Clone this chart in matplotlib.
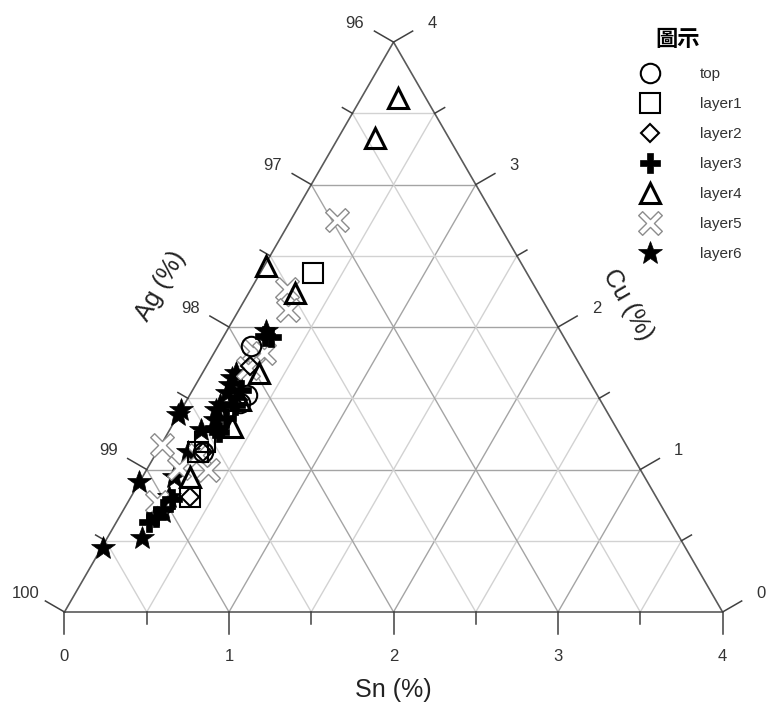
import numpy as np
import matplotlib
matplotlib.use("Agg")
import matplotlib.pyplot as plt
from matplotlib.lines import Line2D
from matplotlib.path import Path

plt.rcParams['font.family'] = ['Liberation Sans', 'DejaVu Sans']

# compositions (Sn %, Cu %), Ag is the rest
top_sn = [0.20, 0.35, 0.33, 0.28]
top_cu = [1.87, 1.52, 1.47, 1.12]
layer1_sn = [0.32, 0.26, 0.25, 0.36]
layer1_cu = [2.38, 1.19, 1.12, 0.81]
layer2_sn = [0.26, 0.36, 0.28, 0.31]
layer2_cu = [1.73, 0.81, 1.12, 1.49]
layer3_sn = [0.29, 0.25, 0.30, 0.27, 0.31, 0.24, 0.22, 0.20, 0.26, 0.29, 0.31]
layer3_cu = [1.93, 1.94, 1.36, 1.29, 1.45, 0.72, 0.67, 0.63, 0.79, 1.56, 1.26]
layer4_sn = [0.22, 0.22, 0.01, 0.28, 0.34, 0.37, 0.29, 0.32]
layer4_cu = [3.61, 3.33, 2.43, 2.24, 1.68, 1.30, 0.95, 1.49]
layer5_sn = [0.28, 0.22, 0.30, 0.23, 0.30, 0.26, 0.01, 0.19, 0.37, 0.18, 0.27]
layer5_cu = [2.75, 2.27, 2.12, 1.83, 1.82, 1.71, 1.17, 1.01, 1.00, 0.77, 1.10]
layer6_sn = [0.01, 0.21, 0.00, 0.00, 0.00, 0.24, 0.20, 0.21, 0.22, 0.19,
             0.19, 0.19, 0.23, 0.25, 0.24, 0.22, 0.20, 0.21]
layer6_cu = [0.45, 0.52, 0.91, 1.42, 1.38, 1.97, 1.68, 1.59, 1.54, 1.28,
             1.12, 0.95, 0.81, 0.70, 1.35, 1.45, 1.64, 1.42]

labels = ['top', 'layer1', 'layer2', 'layer3', 'layer4', 'layer5', 'layer6']
tick_vals = [0, 1, 2, 3, 4]
ag_labels = ['100', '99', '98', '97', '96']

S3 = np.sqrt(3) / 2
FULL = 4.0


def to_xy(sn, cu):
    sn = np.asarray(sn, dtype=float)
    cu = np.asarray(cu, dtype=float)
    return sn + cu / 2, cu * S3


def thin_x(a=0.2):
    # a plus with narrow arms, turned 45 degrees
    pts = [(a, 1), (a, a), (1, a), (1, -a), (a, -a), (a, -1), (-a, -1),
           (-a, -a), (-1, -a), (-1, a), (-a, a), (-a, 1), (a, 1)]
    c = s = np.sqrt(0.5)
    pts = [(x * c - y * s, x * s + y * c) for x, y in pts]
    return Path(pts, closed=True)


fig = plt.figure(figsize=(7.66, 7.14), dpi=100)
ax = fig.add_axes([0, 0, 1, 1])
ax.set_xlim(-0.392, 4.264)
ax.set_ylim(-0.62, 3.72)
ax.axis('off')

# grid
for v in np.arange(0.5, FULL, 0.5):
    col = '#a4a4a4' if v % 1 == 0 else '#d2d2d2'
    x, y = to_xy([0, FULL - v], [v, v])
    ax.plot(x, y, color=col, lw=1.0, zorder=1)
    x, y = to_xy([v, v], [0, FULL - v])
    ax.plot(x, y, color=col, lw=1.0, zorder=1)
    x, y = to_xy([v, 0], [0, v])
    ax.plot(x, y, color=col, lw=1.0, zorder=1)

# frame
x, y = to_xy([0, FULL, 0, 0], [0, 0, FULL, 0])
ax.plot(x, y, color='#5a5a5a', lw=1.2, zorder=2)

# ticks
big, small, lab = 0.134, 0.07, 0.27
dirs = {
    'sn': (0.0, -1.0),
    'ag': (np.cos(np.radians(150)), np.sin(np.radians(150))),
    'cu': (np.cos(np.radians(30)), np.sin(np.radians(30))),
}
for v in np.arange(0, FULL + 0.01, 0.5):
    L = big if v % 1 == 0 else small
    bx, by = to_xy(v, 0)
    d = dirs['sn']
    ax.plot([bx, bx + d[0] * L], [by, by + d[1] * L], color='#404040', lw=1.1)
    lx, ly = to_xy(0, v)
    d = dirs['ag']
    ax.plot([lx, lx + d[0] * L], [ly, ly + d[1] * L], color='#404040', lw=1.1)
    rx, ry = to_xy(FULL - v, v)
    d = dirs['cu']
    ax.plot([rx, rx + d[0] * L], [ry, ry + d[1] * L], color='#404040', lw=1.1)

for i, v in enumerate(tick_vals):
    bx, by = to_xy(v, 0)
    ax.text(bx, by - lab, str(v), ha='center', va='center', fontsize=12, color='#333333')
    lx, ly = to_xy(0, v)
    d = dirs['ag']
    ax.text(lx + d[0] * lab, ly + d[1] * lab - 0.02, ag_labels[i], ha='center',
            va='center', fontsize=12, color='#333333')
    rx, ry = to_xy(FULL - v, v)
    d = dirs['cu']
    ax.text(rx + d[0] * lab, ry + d[1] * lab - 0.02, str(v), ha='center', va='center',
            fontsize=12, color='#333333')

ax.text(2.0, -0.474, 'Sn (%)', ha='center', va='center', fontsize=18, color='#222222')
ax.text(0.587, 1.982, 'Ag (%)', ha='center', va='center', fontsize=18, rotation=60,
        color='#222222')
ax.text(3.426, 1.866, 'Cu (%)', ha='center', va='center', fontsize=18, rotation=-60,
        color='#222222')

# data
styles = [
    dict(marker='o', ms=14, mfc='none', mec='black', mew=1.5),
    dict(marker='s', ms=15, mfc='none', mec='black', mew=1.5),
    dict(marker='D', ms=9.5, mfc='none', mec='black', mew=1.5),
    dict(marker='P', ms=14, mfc='black', mec='black', mew=0.5),
    dict(marker='^', ms=14, mfc='none', mec='black', mew=2.2),
    dict(marker=thin_x(), ms=17, mfc='white', mec='#8c8c8c', mew=1.0),
    dict(marker='*', ms=18, mfc='black', mec='black', mew=0.5),
]
series = [
    (top_sn, top_cu), (layer1_sn, layer1_cu), (layer2_sn, layer2_cu),
    (layer3_sn, layer3_cu), (layer4_sn, layer4_cu), (layer5_sn, layer5_cu),
    (layer6_sn, layer6_cu),
]
handles = []
for k, ((sn, cu), st) in enumerate(zip(series, styles)):
    x, y = to_xy(sn, cu)
    ax.plot(x, y, ls='none', zorder=10 - k, **st)
    handles.append(Line2D([], [], ls='none', **st))

leg = ax.legend(handles, labels, loc='upper left', bbox_to_anchor=(0.8336, 0.9060),
                frameon=False, fontsize=11, handlelength=1.5, handletextpad=2.5,
                labelspacing=1.05, borderpad=0, borderaxespad=0, numpoints=1)
for t in leg.get_texts():
    t.set_color('#333333')
ax.text(0.884, 0.945, '圖示', transform=ax.transAxes, ha='center', va='center',
        fontsize=16, fontweight='bold', family=['Noto Sans CJK TC', 'DejaVu Sans'])

fig.savefig('out.png', dpi=100)
